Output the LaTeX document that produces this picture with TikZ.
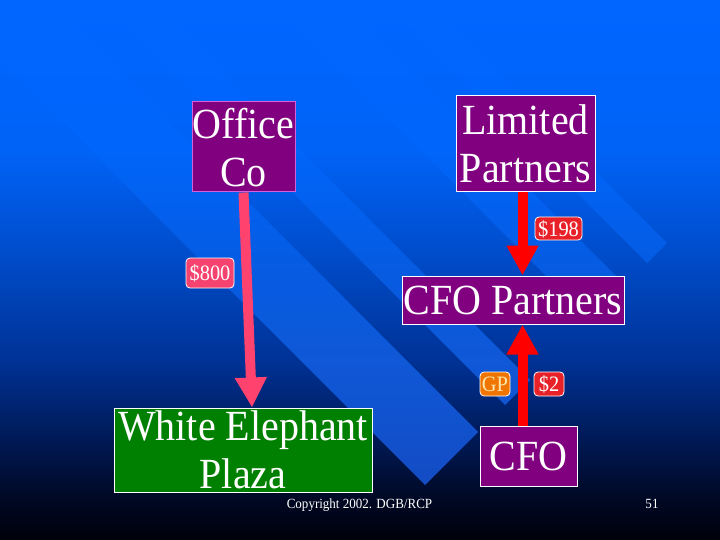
\documentclass[tikz,border=0pt]{standalone}
\usepackage{fontspec}
\setmainfont{Liberation Serif}[FakeStretch=0.93]
\usetikzlibrary{arrows.meta}
\definecolor{boxpurple}{RGB}{128,0,128}
\definecolor{boxgreen}{RGB}{0,128,0}
\definecolor{officeborder}{RGB}{214,96,214}
\definecolor{pinkarrow}{RGB}{255,66,110}
\definecolor{pinkfill}{RGB}{245,66,110}
\definecolor{redfill}{RGB}{232,32,40}
\definecolor{orangefill}{RGB}{240,116,0}
\definecolor{gptext}{RGB}{255,230,170}
\pgfdeclarelayer{back}
\pgfsetlayers{back,main}
\pgfdeclareverticalshading{bgshade}{100bp}{rgb(0bp)=(0,0,0.04); rgb(25bp)=(0,0,0.04); rgb(28.7bp)=(0,0.031,0.137); rgb(34.26bp)=(0,0.098,0.333); rgb(41.67bp)=(0,0.196,0.588); rgb(50.93bp)=(0,0.294,0.784); rgb(61.1bp)=(0,0.388,0.97); rgb(75bp)=(0,0.4,1); rgb(100bp)=(0,0.4,1)}
\pgfdeclareverticalshading{stripeshade}{100bp}{rgb(0bp)=(0.059,0.235,0.667); rgb(25bp)=(0.059,0.235,0.667); rgb(29.63bp)=(0.078,0.294,0.765); rgb(41.67bp)=(0.059,0.345,0.843); rgb(50.93bp)=(0.02,0.36,0.89); rgb(61.1bp)=(0,0.396,0.98); rgb(75bp)=(0,0.4,1); rgb(100bp)=(0,0.4,1)}
\tikzset{
  bigbox/.style={draw=white, line width=1pt, fill=boxpurple, text=white, inner sep=0pt,
    align=center, font=\fontsize{43}{48}\selectfont, text depth=0pt},
  money/.style={draw=white, line width=0.8pt, rounded corners=4pt, inner sep=0pt, text=white,
    font=\fontsize{22}{24}\selectfont, text depth=0pt},
  flow/.style={line width=10pt, -{Triangle[width=30pt,length=30pt]}},
  footer/.style={text=white, inner sep=0pt, font=\fontsize{14}{16}\selectfont, text depth=0pt}
}
\begin{document}
\begin{tikzpicture}[x=1pt,y=-1pt]
\useasboundingbox (0,0) rectangle (720,540);
\begin{pgfonlayer}{back}
  \shade[shading=bgshade] (0,0) rectangle (720,540);
  \begin{scope}
    \clip (0,0) rectangle (720,540);
    \clip (425,485) -- (478,432) -- (-600,-648) -- (-600,-540) -- cycle
          (505,405) -- (530,380) -- (-600,-750) -- (-600,-700) -- cycle
          (590,320) -- (625,285) -- (-600,-940) -- (-600,-870) -- cycle
          (647,263) -- (667,243) -- (-600,-1024) -- (-600,-984) -- cycle;
    \shade[shading=stripeshade] (0,0) rectangle (720,540);
  \end{scope}
\end{pgfonlayer}

\node[bigbox, draw=officeborder, minimum width=103pt, minimum height=90pt] (oc) at (243.5,147) {Office\\Co};
\node[bigbox, minimum width=139pt, minimum height=96pt] (lp) at (525.5,144) {Limited\\Partners};
\node[bigbox, minimum width=222pt, minimum height=48pt] (cfop) at (513,300) {CFO Partners};
\node[bigbox, fill=boxgreen, minimum width=258pt, minimum height=84pt] (wep) at (243,450) {White Elephant\\Plaza};
\node[bigbox, minimum width=97pt, minimum height=60pt] (cfo) at (528.5,456) {CFO};

\node[money, fill=pinkfill, minimum width=48pt, minimum height=30pt] (l800) at (210,273) {\$800};
\node[money, fill=redfill, minimum width=47pt, minimum height=23pt] (l198) at (558.5,228.5) {\$198};
\node[money, fill=orangefill, text=gptext, minimum width=30pt, minimum height=24pt] (lgp) at (495,384) {GP};
\node[money, fill=redfill, minimum width=30pt, minimum height=24pt] (l2) at (549,384) {\$2};

\node[footer] (copy) at (359.5,504) {Copyright 2002. DGB/RCP};
\node[footer] (pnum) at (652,504) {51};

\coordinate (wepin) at ([xshift=9pt]wep.north);
\coordinate (lpout) at ([xshift=-3pt]lp.south);
\coordinate (cfoout) at ([xshift=-6pt]cfo.north);
\begin{pgfonlayer}{back}
  \draw[flow, pinkarrow] (oc.south) -- (wepin);
  \draw[flow, red] (lpout) -- (lpout |- cfop.north);
  \draw[flow, red] (cfoout) -- (cfoout |- cfop.south);
\end{pgfonlayer}
\end{tikzpicture}
\end{document}
